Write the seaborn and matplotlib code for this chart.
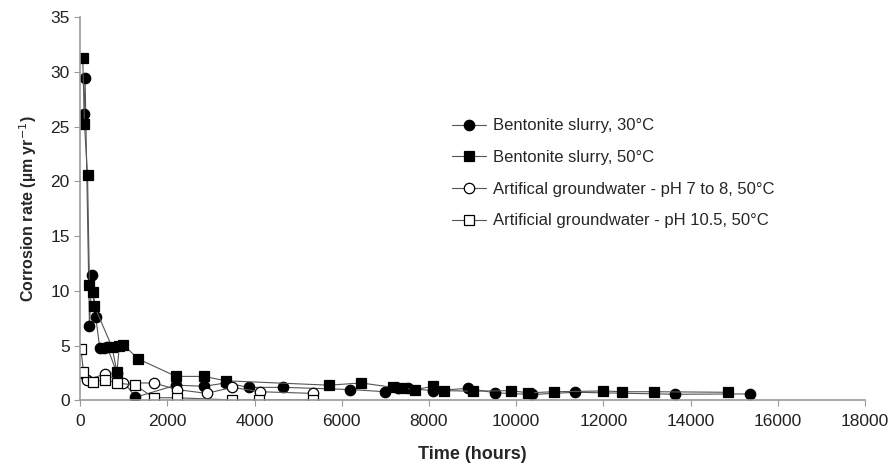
import matplotlib
matplotlib.use("Agg")
import matplotlib.pyplot as plt
import seaborn as sns
import pandas as pd

# Bentonite slurry, 30°C (filled circles)
t_b30 = [90, 115, 215, 270, 360, 450, 540, 620, 845, 1270, 2200, 2840, 3340, 3870,
         4660, 6200, 6990, 7300, 7530, 8090, 8890, 9520, 10370, 11350, 13650, 15350]
r_b30 = [26.2, 29.4, 6.8, 11.5, 7.6, 4.8, 4.8, 4.9, 2.5, 0.3, 1.4, 1.3, 1.6, 1.2,
         1.2, 1.0, 0.8, 1.1, 1.1, 0.9, 1.1, 0.7, 0.55, 0.75, 0.57, 0.6]

# Bentonite slurry, 50°C (filled squares)
t_b50 = [60, 100, 170, 215, 285, 330, 730, 845, 900, 990, 1330, 2200, 2840, 3340,
         5700, 6450, 7170, 7370, 7690, 8090, 8340, 9000, 9870, 10280, 10860, 12000,
         12430, 13150, 14850]
r_b50 = [31.3, 25.2, 20.6, 10.5, 9.9, 8.6, 4.9, 2.6, 5.0, 5.1, 3.8, 2.2, 2.2, 1.8,
         1.4, 1.6, 1.2, 1.1, 1.0, 1.3, 0.9, 0.85, 0.9, 0.7, 0.8, 0.87,
         0.8, 0.8, 0.75]

# Artifical groundwater - pH 7 to 8, 50°C (open circles)
t_gw7 = [0, 150, 575, 990, 1690, 2220, 2900, 3490, 4130, 5330]
r_gw7 = [2.5, 1.9, 2.4, 1.6, 1.6, 1.0, 0.65, 1.2, 0.8, 0.65]

# Artificial groundwater - pH 10.5, 50°C (open squares)
t_gw10 = [20, 77, 300, 575, 845, 1265, 1690, 2220, 3490, 4100, 5330]
r_gw10 = [4.7, 2.6, 1.7, 1.9, 1.6, 1.4, 0.25, 0.25, 0.05, 0.05, 0.05]

series = [
    ("Bentonite slurry, 30°C", t_b30, r_b30, "o", "black"),
    ("Bentonite slurry, 50°C", t_b50, r_b50, "s", "black"),
    ("Artifical groundwater - pH 7 to 8, 50°C", t_gw7, r_gw7, "o", "white"),
    ("Artificial groundwater - pH 10.5, 50°C", t_gw10, r_gw10, "s", "white"),
]

sns.set_style("white")
plt.rcParams["font.family"] = ["Liberation Sans", "DejaVu Sans"]

fig = plt.figure(figsize=(8.9, 4.63), dpi=100)
ax = fig.add_axes([0.09, 0.135, 0.882, 0.828])

for name, t, r, mk, fc in series:
    df = pd.DataFrame({"Time": t, "Rate": r})
    sns.lineplot(data=df, x="Time", y="Rate", ax=ax, sort=False, label=name,
                 color="#555555", linewidth=0.8, marker=mk, markersize=7.5,
                 markerfacecolor=fc, markeredgecolor="black", markeredgewidth=0.9)

ax.set_xlim(0, 18000)
ax.set_ylim(0, 35)
ax.set_xticks(range(0, 18001, 2000))
ax.set_yticks(range(0, 36, 5))
ax.tick_params(axis="both", labelsize=12.5, labelcolor="#222222", length=4,
               width=0.8, direction="out", bottom=True, left=True, color="#999999")
ax.tick_params(axis="x", pad=6)
for side in ("top", "right"):
    ax.spines[side].set_visible(False)
for side in ("left", "bottom"):
    ax.spines[side].set_color("#999999")
    ax.spines[side].set_linewidth(1.2)

ax.set_xlabel("Time (hours)", fontsize=13, fontweight="bold", labelpad=12)
ax.set_ylabel("Corrosion rate (µm yr$^{-1}$)", fontsize=11.5, fontweight="bold",
              labelpad=8)

ax.legend(loc="upper left", bbox_to_anchor=(0.455, 0.775), frameon=False,
          fontsize=12, handlelength=2.0, labelspacing=1.0, handletextpad=0.45)

fig.savefig("out.png", dpi=100)
